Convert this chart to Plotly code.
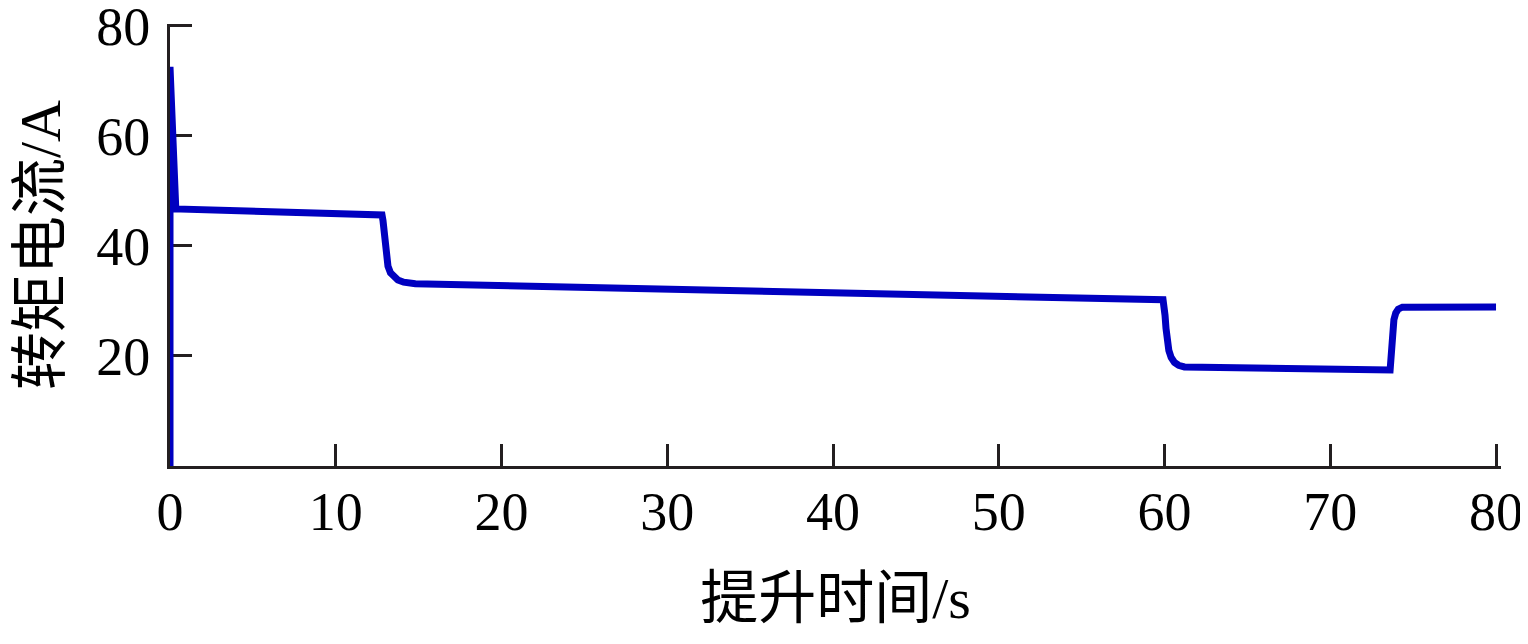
import plotly.graph_objects as go

# lift time (s) and torque current (A)
time_s = [0, 0, 0.35, 12.79, 12.85, 12.91, 12.97, 13.05, 13.15, 13.3, 13.5, 13.75, 14.1, 14.8,
          59.91, 59.98, 60.03, 60.09, 60.16, 60.26, 60.4, 60.6, 60.85, 61.2,
          73.61, 73.65, 73.7, 73.76, 73.84, 73.95, 74.1, 74.35, 80]
current_a = [0, 72.5, 46.7, 45.6, 44.6, 43.0, 40.5, 38.0, 36.3, 35.1, 34.3, 33.8, 33.4, 33.1,
             30.2, 29.0, 27.4, 25.0, 22.8, 21.0, 19.7, 18.8, 18.3, 18.0,
             17.45, 19.5, 22.5, 24.8, 26.6, 27.8, 28.5, 28.85, 28.9]

x_ticks = [0, 10, 20, 30, 40, 50, 60, 70, 80]
y_ticks = [20, 40, 60, 80]

font_family = "Liberation Serif, Noto Sans CJK SC"
axis_color = '#231f20'

fig = go.Figure()
fig.add_trace(go.Scatter(x=time_s, y=current_a, mode='lines',
                         line=dict(color='#0000c0', width=7),
                         cliponaxis=False, showlegend=False))

# page body adds ~8px offset, margins compensate for it
# ranges run a hair past 80 so plotly keeps the inside ticks at 80
fig.update_layout(width=1528, height=644,
                  margin=dict(l=162, r=35, t=16, b=186),
                  plot_bgcolor='white', paper_bgcolor='white',
                  font=dict(family=font_family, size=54, color='black'))

fig.update_xaxes(range=[0, 80.3], tickvals=x_ticks, automargin=False,
                 showline=True, linecolor=axis_color, linewidth=3,
                 ticks='inside', ticklen=22, tickwidth=3, tickcolor=axis_color,
                 showgrid=False, zeroline=False, layer='below traces',
                 ticklabelstandoff=-4, ticklabeloverflow='allow',
                 tickfont=dict(size=54),
                 title=dict(text='提升时间/s', font=dict(size=58), standoff=37))
fig.update_yaxes(range=[0, 80.3], tickvals=y_ticks, automargin=False,
                 showline=True, linecolor=axis_color, linewidth=3,
                 ticks='inside', ticklen=22, tickwidth=3, tickcolor=axis_color,
                 showgrid=False, zeroline=False, layer='below traces',
                 ticklabelstandoff=6, ticklabeloverflow='allow',
                 tickfont=dict(size=54),
                 title=dict(text='转矩电流/A', font=dict(size=58), standoff=24))

fig.write_html("out.html")
